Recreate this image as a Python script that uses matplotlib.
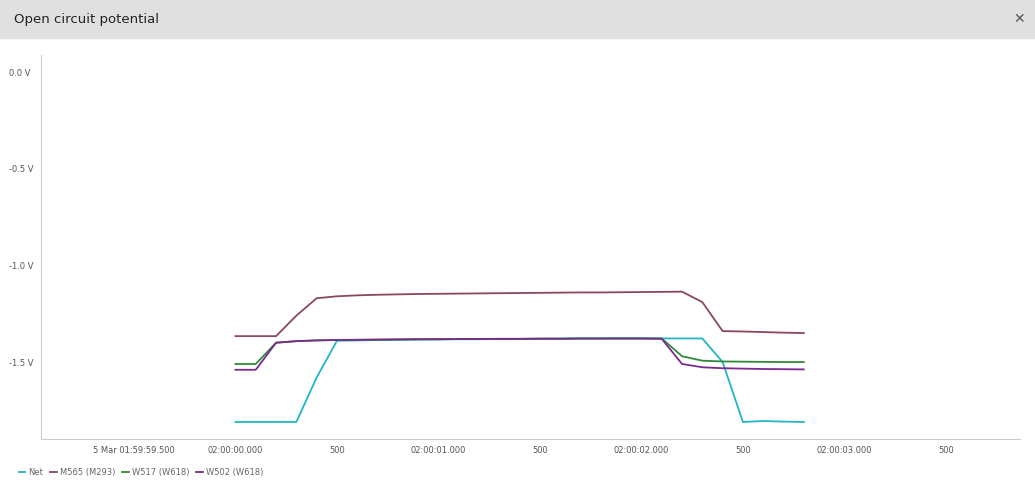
import matplotlib
matplotlib.use("Agg")
import matplotlib.pyplot as plt
import numpy as np

t = [round(0.1*i, 1) for i in range(29)]
net = [-1.81,-1.81,-1.81,-1.81,-1.58,-1.39,-1.388,-1.386,-1.385,-1.384,-1.383,-1.382,-1.382,-1.381,-1.381,-1.380,-1.380,-1.379,-1.379,-1.378,-1.378,-1.378,-1.378,-1.378,-1.50,-1.81,-1.805,-1.808,-1.81]
m565 = [-1.366,-1.366,-1.366,-1.26,-1.17,-1.16,-1.155,-1.152,-1.150,-1.148,-1.147,-1.146,-1.145,-1.144,-1.143,-1.142,-1.141,-1.140,-1.140,-1.139,-1.138,-1.137,-1.136,-1.19,-1.34,-1.342,-1.345,-1.348,-1.35]
w517 = [-1.51,-1.51,-1.40,-1.392,-1.388,-1.386,-1.385,-1.384,-1.383,-1.382,-1.382,-1.381,-1.381,-1.380,-1.380,-1.379,-1.379,-1.378,-1.378,-1.378,-1.378,-1.378,-1.47,-1.493,-1.497,-1.498,-1.499,-1.50,-1.50]
w502 = [-1.54,-1.54,-1.40,-1.392,-1.388,-1.386,-1.385,-1.384,-1.383,-1.382,-1.382,-1.381,-1.381,-1.380,-1.380,-1.379,-1.379,-1.378,-1.378,-1.378,-1.378,-1.380,-1.51,-1.527,-1.532,-1.534,-1.536,-1.537,-1.538]
names = ["Net", "M565 (M293)", "W517 (W618)", "W502 (W618)"]
colors = ["#22b5c6", "#8a4762", "#2f8a3b", "#7a2b8c"]
yticks = [0.0, -0.5, -1.0, -1.5]
ytlabels = ["0.0 V", "-0.5 V", "-1.0 V", "-1.5 V"]
xticks = [-0.5, 0.0, 0.5, 1.0, 1.5, 2.0, 2.5, 3.0, 3.5]
xtlabels = ["5 Mar 01:59:59.500", "02:00:00.000", "500", "02:00:01.000", "500", "02:00:02.000", "500", "02:00:03.000", "500"]

fig = plt.figure(figsize=(10.35, 4.91), dpi=100)
fig.patches.append(plt.Rectangle((0, 1-38/491), 1, 38/491, transform=fig.transFigure, color="#e0e0e0", zorder=0))
fig.text(14/1035, 1-19/491, "Open circuit potential", fontsize=9.5, va="center", color="#222222")
fig.text(1019/1035, 1-19/491, "✕", fontsize=10, va="center", ha="center", color="#555555")

ax = fig.add_axes([41/1035, 1-439/491, (1020-41)/1035, (439-55)/491])
for y, c, n in zip([net, m565, w517, w502], colors, names):
    ax.plot(t, y, color=c, lw=1.3, label=n)
ax.set_xlim(-0.958, 3.865)
ax.set_ylim(-1.898, 0.088)
ax.set_yticks(yticks, ytlabels)
ax.set_xticks(xticks, xtlabels)
ax.tick_params(labelsize=6, colors="#555555", length=0)
ax.tick_params(axis="x", pad=5)
for s in ["top", "right"]:
    ax.spines[s].set_visible(False)
for s in ["left", "bottom"]:
    ax.spines[s].set_color("#cccccc")
for lab in ax.get_yticklabels():
    lab.set_horizontalalignment("left")
ax.yaxis.set_tick_params(pad=23)
ax.legend(loc="upper left", bbox_to_anchor=(-30/979, -0.055), ncol=4, frameon=False, fontsize=6,
          handlelength=0.8, handletextpad=0.4, columnspacing=0.8, labelcolor="#666666")
fig.savefig("out.png")
